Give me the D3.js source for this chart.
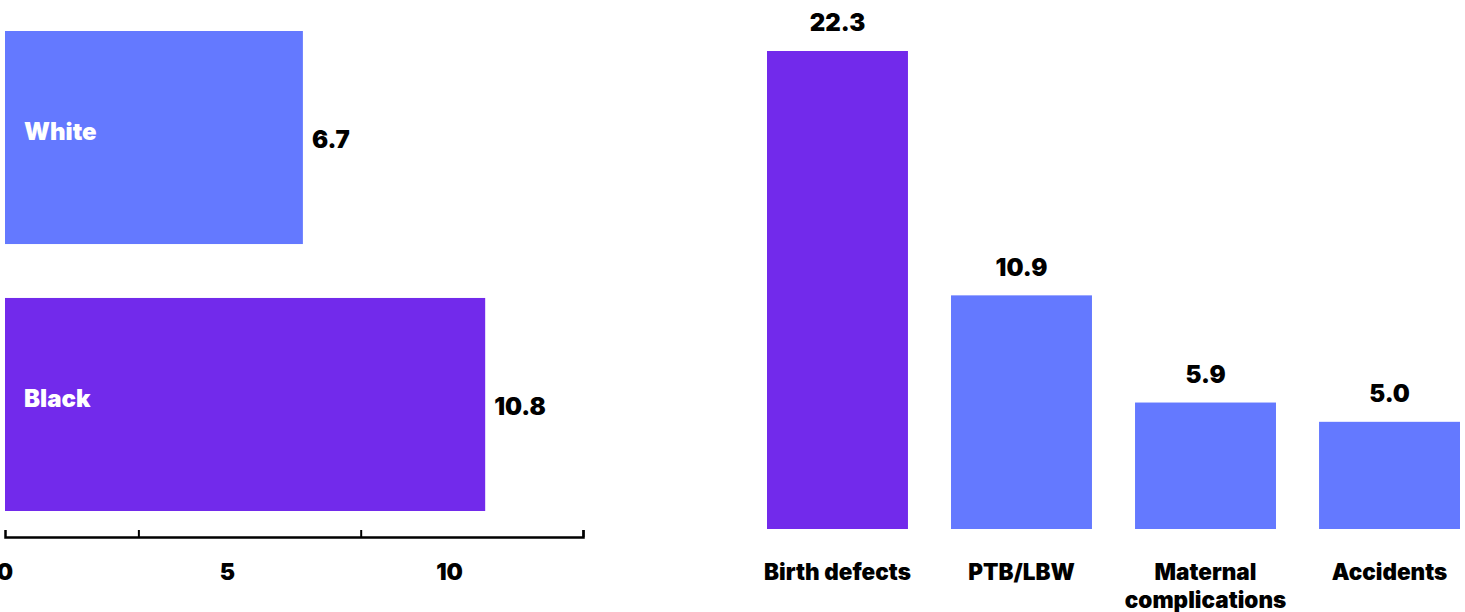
<!DOCTYPE html>
<html>
<head>
<meta charset="utf-8">
<script src="https://cdn.jsdelivr.net/npm/d3@7"></script>
<style>
  body { margin: 0; background: #fff; }
  text { font-family: Inter, "Open Sans", sans-serif; font-weight: 900; }
</style>
</head>
<body>
<svg id="chart" width="1465" height="612"></svg>
<script>
// left panel: race
var raceNames = ["White", "Black"];
var raceValues = [6.7, 10.8];
var raceTickMarks = [0, 3, 8, 13];
var raceTickLabels = [0, 5, 10];

// right panel: causes
var causeNames = ["Birth defects", "PTB/LBW", "Maternal complications", "Accidents"];
var causeValues = [22.3, 10.9, 5.9, 5.0];

var purple = "#722AEB";
var blue = "#6479FF";

var svg = d3.select("#chart");

// ---- left: horizontal bars
var x = d3.scaleLinear().domain([0, 13]).range([5, 583]);
var y = d3.scaleBand().domain(raceNames).range([31, 511]).paddingInner(0.202);

var left = svg.append("g");
left.selectAll("rect").data(raceNames).join("rect")
  .attr("x", x(0))
  .attr("y", d => y(d))
  .attr("width", (d, i) => x(raceValues[i]) - x(0))
  .attr("height", y.bandwidth())
  .attr("fill", d => d == "Black" ? purple : blue);

left.selectAll(".name").data(raceNames).join("text")
  .attr("class", "name")
  .attr("x", x(0) + 19)
  .attr("y", d => y(d) + y.bandwidth() / 2 - 6)
  .attr("dy", "0.35em")
  .attr("fill", "#fff")
  .attr("font-size", 24)
  .text(d => d);

left.selectAll(".val").data(raceNames).join("text")
  .attr("class", "val")
  .attr("x", (d, i) => x(raceValues[i]) + 9)
  .attr("y", d => y(d) + y.bandwidth() / 2 + 2)
  .attr("dy", "0.35em")
  .attr("fill", "#000")
  .attr("font-size", 24)
  .text((d, i) => raceValues[i].toFixed(1));

// axis line + tick marks (marks sit at 3/8/13, labels at 0/5/10 as in the original)
var axisY = 537;
var ax = svg.append("g").attr("transform", "translate(0," + axisY + ")");
ax.call(d3.axisTop(x).tickValues(raceTickMarks).tickSize(7).tickFormat(""))
  .call(g => g.select(".domain").attr("stroke", "#000").attr("stroke-width", 2.5))
  .call(g => g.selectAll(".tick line").attr("stroke", "#000").attr("stroke-width", 2))
  .call(g => g.selectAll(".tick").filter(d => d == 0).remove());

svg.append("g").selectAll("text").data(raceTickLabels).join("text")
  .attr("x", d => x(d))
  .attr("y", 572)
  .attr("dy", "0.35em")
  .attr("text-anchor", "middle")
  .attr("font-size", 23)
  .text(d => d);

// ---- right: vertical bars
var xb = d3.scaleBand().domain(causeNames).range([767, 1460]).paddingInner(0.234);
var yb = d3.scaleLinear().domain([0, 22.3]).range([529, 51]);

var right = svg.append("g");
right.selectAll("rect").data(causeNames).join("rect")
  .attr("x", d => xb(d))
  .attr("y", (d, i) => yb(causeValues[i]))
  .attr("width", xb.bandwidth())
  .attr("height", (d, i) => yb(0) - yb(causeValues[i]))
  .attr("fill", (d, i) => i == 0 ? purple : blue);

right.selectAll(".val").data(causeNames).join("text")
  .attr("class", "val")
  .attr("x", d => xb(d) + xb.bandwidth() / 2)
  .attr("y", (d, i) => yb(causeValues[i]) - 28)
  .attr("dy", "0.35em")
  .attr("text-anchor", "middle")
  .attr("font-size", 24)
  .text((d, i) => causeValues[i].toFixed(1));

// category labels, wrapped for the long one
right.selectAll(".cat").data(causeNames).join("text")
  .attr("class", "cat")
  .attr("x", d => xb(d) + xb.bandwidth() / 2)
  .attr("y", 572)
  .attr("text-anchor", "middle")
  .attr("font-size", 22.5)
  .each(function(d) {
    var words = d == "Maternal complications" ? ["Maternal", "complications"] : [d];
    d3.select(this).selectAll("tspan").data(words).join("tspan")
      .attr("x", xb(d) + xb.bandwidth() / 2)
      .attr("dy", (w, i) => i == 0 ? "0.35em" : 28)
      .text(w => w);
  });
</script>
</body>
</html>
